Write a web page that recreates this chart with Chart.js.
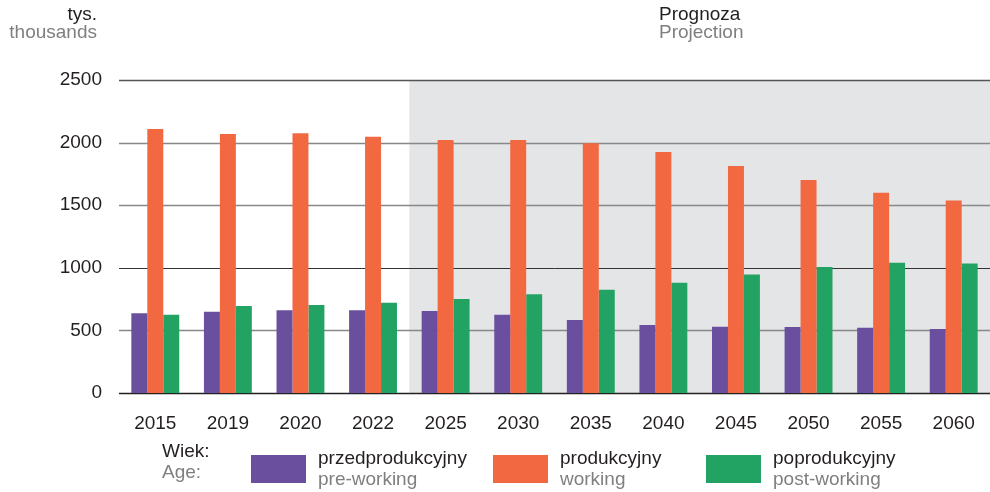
<!DOCTYPE html>
<html>
<head>
<meta charset="utf-8">
<script src="https://cdn.jsdelivr.net/npm/chart.js@4"></script>
<style>
  html, body { margin: 0; padding: 0; background: #fff; }
  #wrap { position: relative; width: 990px; height: 492px; }
</style>
</head>
<body>
<div id="wrap"><canvas id="popChart" width="990" height="492"></canvas></div>
<script>
// Data (thousands)
const years = ['2015', '2019', '2020', '2022', '2025', '2030', '2035', '2040', '2045', '2050', '2055', '2060'];
const preWorking = [636, 649, 660, 660, 655, 625, 583, 543, 530, 527, 522, 511];
const working = [2109, 2069, 2074, 2047, 2021, 2021, 1994, 1925, 1813, 1701, 1600, 1538];
const postWorking = [625, 695, 703, 721, 751, 788, 825, 881, 947, 1006, 1041, 1035];
const yTicks = [0, 500, 1000, 1500, 2000, 2500];
const projectionFrom = '2025';

const seriesPl = ['przedprodukcyjny', 'produkcyjny', 'poprodukcyjny'];
const seriesEn = ['pre-working', 'working', 'post-working'];
const colors = ['#6A4F9F', '#F26841', '#23A363'];

const dark = '#231F20';
const grey = '#7F7F7F';
const font = 'Liberation Sans, Arial, sans-serif';

// Shaded projection area + header texts + legend
const decorPlugin = {
    id: 'decor',
    beforeDatasetsDraw(chart) {
        const ctx = chart.ctx;
        const area = chart.chartArea;
        const x = chart.scales.x;
        const idx = years.indexOf(projectionFrom);
        const left = (x.getPixelForValue(idx - 1) + x.getPixelForValue(idx)) / 2;
        ctx.save();
        ctx.fillStyle = '#E4E5E7';
        ctx.fillRect(left, area.top + 1, area.right - left, area.bottom - area.top - 1);
        ctx.restore();
        // gridlines over the shading
        const y = chart.scales.y;
        ctx.save();
        yTicks.forEach(v => {
            const py = Math.round(y.getPixelForValue(v)) + 0.5;
            ctx.strokeStyle = (v === 0) ? '#222' : (v === 2500 ? '#555' : (v === 1000 ? '#333' : '#888'));
            ctx.lineWidth = (v === 1000) ? 1 : 1.6;
            ctx.beginPath();
            ctx.moveTo(area.left, py);
            ctx.lineTo(area.right, py);
            ctx.stroke();
        });
        ctx.restore();
    },
    afterDraw(chart) {
        const ctx = chart.ctx;
        ctx.save();
        ctx.textBaseline = 'middle';
        ctx.font = '19px ' + font;

        // unit label
        ctx.textAlign = 'right';
        ctx.fillStyle = dark;
        ctx.fillText('tys.', 97, 15);
        ctx.fillStyle = grey;
        ctx.fillText('thousands', 97, 33);

        // projection label
        ctx.textAlign = 'left';
        ctx.fillStyle = dark;
        ctx.fillText('Prognoza', 659, 15);
        ctx.fillStyle = grey;
        ctx.fillText('Projection', 659, 33);

        // legend
        ctx.fillStyle = dark;
        ctx.fillText('Wiek:', 162, 452);
        ctx.fillStyle = grey;
        ctx.fillText('Age:', 162, 473);

        const swatchX = [251, 493, 706];
        for (let i = 0; i < 3; i++) {
            ctx.fillStyle = colors[i];
            ctx.fillRect(swatchX[i], 455, 55, 28);
            ctx.fillStyle = dark;
            ctx.fillText(seriesPl[i], swatchX[i] + 67, 459);
            ctx.fillStyle = grey;
            ctx.fillText(seriesEn[i], swatchX[i] + 67, 480);
        }
        ctx.restore();
    }
};

const ctx = document.getElementById('popChart').getContext('2d');
const popChart = new Chart(ctx, {
    type: 'bar',
    data: {
        labels: years,
        datasets: [preWorking, working, postWorking].map((d, i) => ({
            label: seriesPl[i],
            data: d,
            backgroundColor: colors[i],
            borderWidth: 0,
            categoryPercentage: 0.66,
            barPercentage: 1
        }))
    },
    options: {
        responsive: false,
        animation: false,
        layout: { padding: { top: 80, right: 0, left: 0, bottom: 0 } },
        plugins: {
            legend: { display: false },
            tooltip: { enabled: false }
        },
        scales: {
            x: {
                grid: { display: false, drawTicks: false },
                border: { display: false },
                ticks: {
                    color: dark,
                    font: { family: font, size: 19 },
                    padding: 19,
                    maxRotation: 0
                },
                afterFit(scale) {
                    scale.height = 99;
                    scale.paddingLeft = 0;
                    scale.paddingRight = 0;
                }
            },
            y: {
                min: 0,
                max: 2500,
                afterBuildTicks(scale) {
                    scale.ticks = yTicks.map(v => ({ value: v }));
                },
                grid: { display: false, drawTicks: false },
                border: { display: false },
                ticks: {
                    color: dark,
                    font: { family: font, size: 19 },
                    padding: 17,
                    callback: v => String(v)
                },
                afterFit(scale) { scale.width = 119; }
            }
        }
    },
    plugins: [decorPlugin]
});
</script>
</body>
</html>
